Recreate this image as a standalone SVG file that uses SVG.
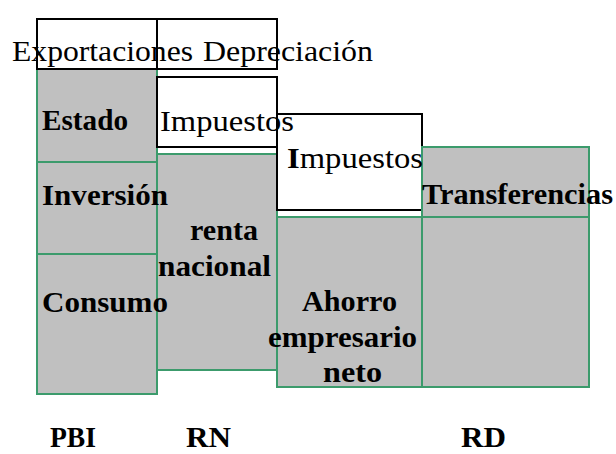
<svg xmlns="http://www.w3.org/2000/svg" width="616" height="454" viewBox="0 0 616 454">
<style>
.w{fill:#ffffff;stroke:#000000;stroke-width:2}
.g{fill:#c0c0c0;stroke:#3c9b6c;stroke-width:2}
text{font-family:"Liberation Serif","Times New Roman",serif;font-size:30px;fill:#000000}
.b{font-weight:bold;font-size:30px}
</style>
<rect width="616" height="454" fill="#ffffff"/>
<g id="connectors"></g>
<g id="estado"><rect class="g" x="37" y="69" width="120" height="93"/></g>
<g id="inversion"><rect class="g" x="37" y="162" width="120" height="92"/></g>
<g id="consumo"><rect class="g" x="37" y="254" width="120" height="140"/></g>
<g id="exportaciones"><rect class="w" x="37" y="19" width="120" height="50"/></g>
<g id="depreciacion"><rect class="w" x="157" y="19" width="120" height="50"/></g>
<g id="impuestos-rn"><rect class="w" x="157" y="77" width="120" height="70"/></g>
<g id="renta-nacional"><rect class="g" x="157" y="154" width="120" height="216"/></g>
<g id="impuestos-rd"><rect class="w" x="277" y="114" width="145" height="96"/></g>
<g id="ahorro"><rect class="g" x="277" y="217" width="145" height="170"/></g>
<g id="transferencias"><rect class="g" x="422" y="147" width="167" height="70"/></g>
<g id="rd-bottom"><rect class="g" x="422" y="217" width="167" height="170"/></g>
<g id="labels">
<text x="12" y="61" textLength="181" lengthAdjust="spacingAndGlyphs">Exportaciones</text>
<text x="203" y="61" textLength="170" lengthAdjust="spacingAndGlyphs">Depreciación</text>
<text class="b" x="42" y="130" textLength="86" lengthAdjust="spacingAndGlyphs">Estado</text>
<text x="160" y="131" textLength="134" lengthAdjust="spacingAndGlyphs">Impuestos</text>
<text x="287" y="168" textLength="136" lengthAdjust="spacingAndGlyphs"><tspan class="b">I</tspan>mpuestos</text>
<text class="b" x="422" y="204" textLength="191" lengthAdjust="spacingAndGlyphs">Transferencias</text>
<text class="b" x="42" y="205" textLength="126" lengthAdjust="spacingAndGlyphs">Inversión</text>
<text class="b" x="190" y="240" textLength="68" lengthAdjust="spacingAndGlyphs">renta</text>
<text class="b" x="158" y="276" textLength="113" lengthAdjust="spacingAndGlyphs">nacional</text>
<text class="b" x="42" y="312" textLength="126" lengthAdjust="spacingAndGlyphs">Consumo</text>
<text class="b" x="302" y="311" textLength="95" lengthAdjust="spacingAndGlyphs">Ahorro</text>
<text class="b" x="268" y="347" textLength="149" lengthAdjust="spacingAndGlyphs">empresario</text>
<text class="b" x="323" y="382" textLength="59" lengthAdjust="spacingAndGlyphs">neto</text>
<text class="b" x="50" y="447" textLength="46" lengthAdjust="spacingAndGlyphs">PBI</text>
<text class="b" x="186" y="447" textLength="45" lengthAdjust="spacingAndGlyphs">RN</text>
<text class="b" x="461" y="447" textLength="45" lengthAdjust="spacingAndGlyphs">RD</text>
</g>
</svg>
